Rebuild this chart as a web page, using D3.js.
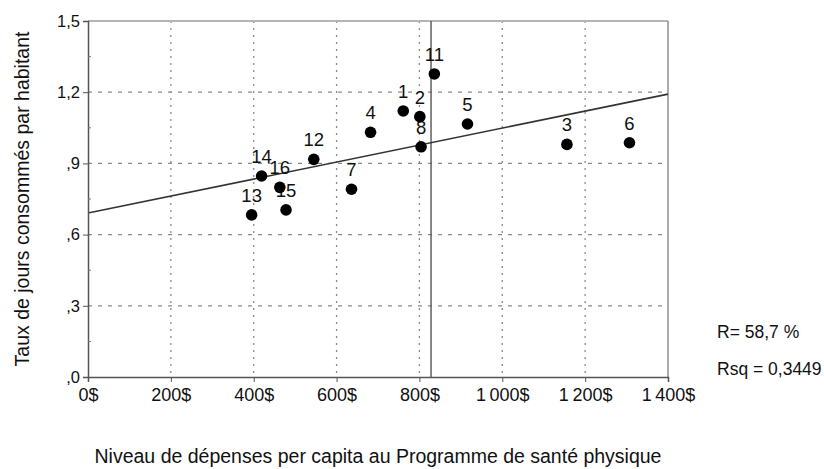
<!DOCTYPE html>
<html>
<head>
<meta charset="utf-8">
<script src="https://cdn.jsdelivr.net/npm/d3@7"></script>
<style>
  html, body { margin: 0; padding: 0; background: #fff; }
  svg { display: block; }
  text { font-family: "Liberation Sans", Arial, sans-serif; fill: #111; }
</style>
</head>
<body>
<svg id="chart" width="824" height="469"></svg>
<script>
// Health-region data: spending per capita ($) vs. rate of days consumed per inhabitant
const regionIds = ["1", "2", "3", "4", "5", "6", "7", "8", "11", "12", "13", "14", "15", "16"];
const spending  = [761, 801, 1156, 682, 916, 1307, 636, 804, 836, 545, 395, 419, 478, 463];
const rate      = [1.121, 1.097, 0.980, 1.031, 1.066, 0.987, 0.791, 0.970, 1.277, 0.917, 0.683, 0.847, 0.704, 0.799];

// Fitted regression line (value at 0$ and 1400$) and vertical reference line
const fitX = [0, 1400];
const fitY = [0.691, 1.192];
const refLineX = 828;

const xTicks = [0, 200, 400, 600, 800, 1000, 1200, 1400];
const yTicks = [0, 0.3, 0.6, 0.9, 1.2, 1.5];
const statLines = ["R= 58,7 %", "Rsq = 0,3449"];

const xTitle = "Niveau de dépenses per capita au Programme de santé physique";
const yTitle = "Taux de jours consommés par habitant";

const svg = d3.select("#chart");
const margin = { left: 88, right: 156, top: 21, bottom: 92 };
const W = 824, H = 469;

const x = d3.scaleLinear().domain([0, 1400]).range([margin.left, W - margin.right]);
const y = d3.scaleLinear().domain([0, 1.5]).range([H - margin.bottom, margin.top]);

// "1 000$" style thousands with a narrow space, ",9" style decimals
const fmtX = v => (v >= 1000 ? d3.format(",")(v).replace(",", "\u2009") : String(v)) + "$";
const fmtY = v => d3.format(".1f")(v).replace(/^0/, "").replace(".", ",");

const plot = svg.append("g");

// Grid
plot.append("g").selectAll("line").data(xTicks.filter(v => v > 0 && v < 1400)).join("line")
  .attr("x1", d => x(d)).attr("x2", d => x(d))
  .attr("y1", y(1.5)).attr("y2", y(0))
  .attr("stroke", "#8a8a8a").attr("stroke-width", 1.3).attr("stroke-dasharray", "2,5");
plot.append("g").selectAll("line").data(yTicks.filter(v => v > 0 && v < 1.5)).join("line")
  .attr("x1", x(0)).attr("x2", x(1400))
  .attr("y1", d => y(d)).attr("y2", d => y(d))
  .attr("stroke", "#8a8a8a").attr("stroke-width", 1.3).attr("stroke-dasharray", "4,6");

// Frame (top and right)
plot.append("line").attr("x1", x(0)).attr("x2", x(1400)).attr("y1", y(1.5)).attr("y2", y(1.5))
  .attr("stroke", "#b5b5b5").attr("stroke-width", 2);
plot.append("line").attr("x1", x(1400)).attr("x2", x(1400)).attr("y1", y(1.5)).attr("y2", y(0))
  .attr("stroke", "#8f8f8f").attr("stroke-width", 1.5);

// Axes
const yAxis = d3.axisLeft(y).tickValues(yTicks).tickFormat(fmtY).tickSize(5).tickPadding(3);
const gy = svg.append("g").attr("transform", `translate(${x(0)},0)`).call(yAxis);
gy.select(".domain").attr("stroke", "#555").attr("stroke-width", 1.5);
gy.selectAll(".tick line").attr("stroke", "#555");
gy.selectAll("text").style("font-size", "16.5px").attr("fill", "#1a1a1a")
  .attr("font-family", "Liberation Sans, Arial, sans-serif");

// minor ticks on the value axis
svg.append("g").selectAll("line").data(d3.range(0.15, 1.5, 0.3)).join("line")
  .attr("x1", x(0)).attr("x2", x(0) + 3)
  .attr("y1", d => y(d)).attr("y2", d => y(d))
  .attr("stroke", "#777");

const xAxis = d3.axisBottom(x).tickValues(xTicks).tickFormat(fmtX).tickSize(5).tickPadding(6);
const gx = svg.append("g").attr("transform", `translate(0,${y(0)})`).call(xAxis);
gx.select(".domain").attr("stroke", "#555").attr("stroke-width", 1.5);
gx.selectAll(".tick line").attr("stroke", "#555");
gx.selectAll("text").style("font-size", "18px").attr("fill", "#1a1a1a")
  .attr("font-family", "Liberation Sans, Arial, sans-serif");

// Reference line
plot.append("line").attr("x1", x(refLineX)).attr("x2", x(refLineX))
  .attr("y1", y(1.5)).attr("y2", y(0))
  .attr("stroke", "#555").attr("stroke-width", 1.4);

// Regression line
plot.append("line")
  .attr("x1", x(fitX[0])).attr("y1", y(fitY[0]))
  .attr("x2", x(fitX[1])).attr("y2", y(fitY[1]))
  .attr("stroke", "#333").attr("stroke-width", 1.6);

// Point labels then points
const pts = regionIds.map((id, i) => ({ id, sx: spending[i], r: rate[i] }));
plot.append("g").selectAll("text").data(pts).join("text")
  .attr("x", d => x(d.sx))
  .attr("y", d => y(d.r) - 13)
  .attr("text-anchor", "middle")
  .style("font-size", "18.5px")
  .text(d => d.id);
plot.append("g").selectAll("circle").data(pts).join("circle")
  .attr("cx", d => x(d.sx)).attr("cy", d => y(d.r)).attr("r", 5.8)
  .attr("fill", "#000");

// Statistics
svg.append("g").selectAll("text").data(statLines).join("text")
  .attr("x", 717).attr("y", (d, i) => 338 + i * 37)
  .style("font-size", "17.5px").attr("fill", "#1a1a1a")
  .text(d => d);

// Titles, centred on the plot area
svg.append("text")
  .attr("x", (x(0) + x(1400)) / 2).attr("y", 463)
  .attr("text-anchor", "middle")
  .style("font-size", "19.5px")
  .text(xTitle);
svg.append("text")
  .attr("transform", `translate(29,${(y(0) + y(1.5)) / 2}) rotate(-90)`)
  .attr("text-anchor", "middle")
  .style("font-size", "19.5px")
  .text(yTitle);
</script>
</body>
</html>
